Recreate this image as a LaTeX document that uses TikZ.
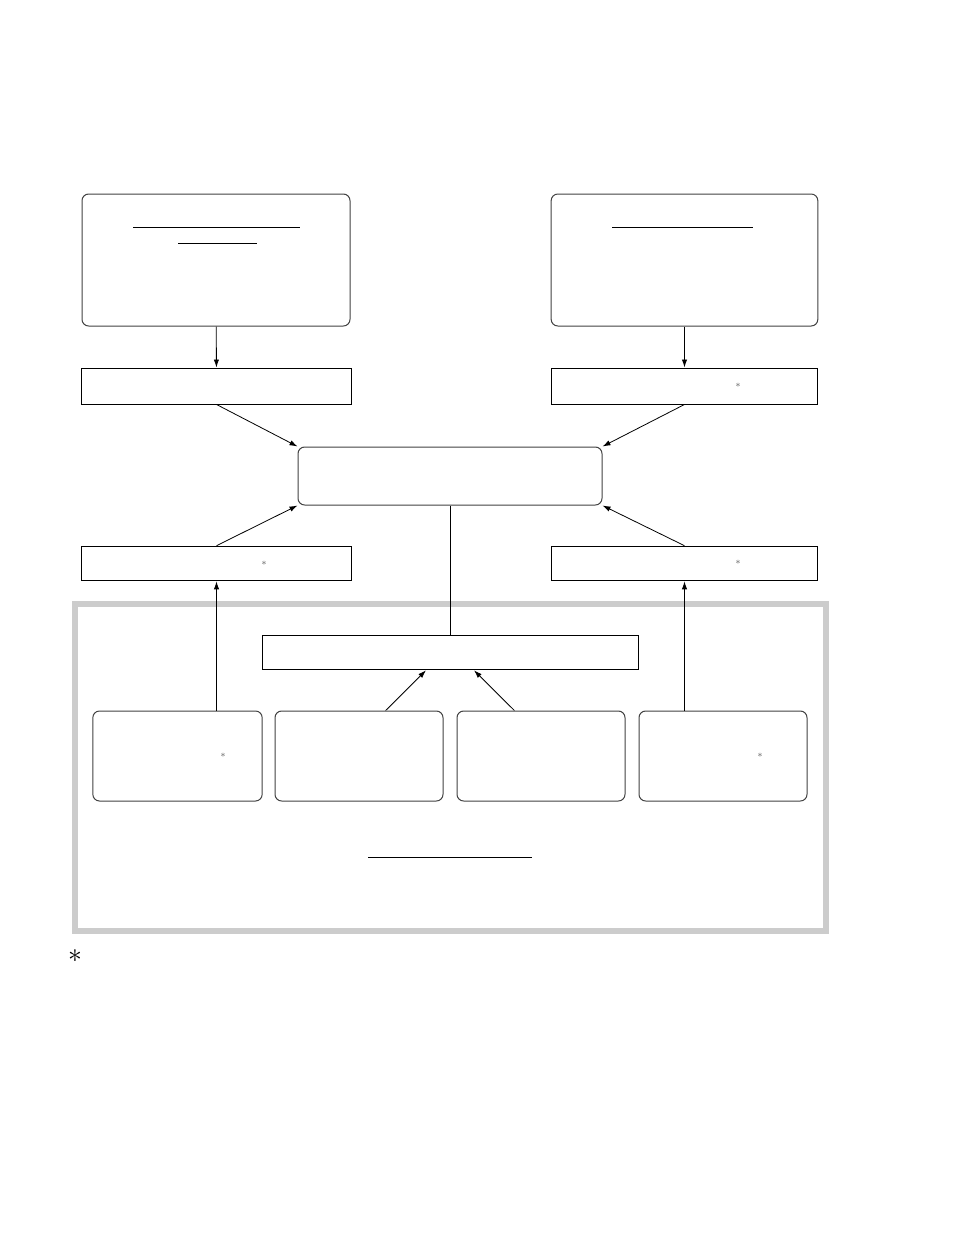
\documentclass[tikz,border=0pt]{standalone}
\usetikzlibrary{arrows.meta}

\begin{document}
\begin{tikzpicture}[x=0.75pt,y=-0.75pt,
    every node/.style={inner sep=0pt},
    roundbox/.style={draw=black!75,line width=0.75pt,rounded corners=5pt},
    plainbox/.style={draw,line width=0.7pt},
    link/.style={line width=0.6pt,-{Latex[length=6pt,width=4pt]}},
    starmark/.style={text=black!65,font=\scriptsize},
    rule/.style={line width=0.7pt}]
\useasboundingbox (0,0) rectangle (954,1243);
    % upper boxes
    \node[roundbox,minimum width=201pt,minimum height=99pt] (topL) at (216,260) {};
    \node[roundbox,minimum width=200pt,minimum height=99pt] (topR) at (684.5,260) {};
    \node[plainbox,minimum width=202pt,minimum height=27pt] (midL) at (216.5,386) {};
    \node[plainbox,minimum width=200pt,minimum height=27pt] (midR) at (684.5,386) {};
    \node[roundbox,minimum width=228pt,minimum height=43.5pt] (centre) at (450,476) {};
    \node[plainbox,minimum width=202pt,minimum height=26pt] (lowL) at (216.5,563.5) {};
    \node[plainbox,minimum width=200pt,minimum height=26pt] (lowR) at (684.5,563.5) {};
    % grey frame
    \draw[black!20,line width=4.5pt] (75,604) rectangle (826,931);
    \node[plainbox,minimum width=282pt,minimum height=26pt] (inner) at (450,652.5) {};
    \node[roundbox,minimum width=127pt,minimum height=67.5pt] (boxA) at (177.5,756) {};
    \node[roundbox,minimum width=126pt,minimum height=67.5pt] (boxB) at (359,756) {};
    \node[roundbox,minimum width=126pt,minimum height=67.5pt] (boxC) at (541,756) {};
    \node[roundbox,minimum width=126pt,minimum height=67.5pt] (boxD) at (723,756) {};
    % underlines
    \draw[rule] (133,227) -- (300,227);
    \draw[rule] (178,243) -- (257,243);
    \draw[rule] (612,227) -- (753,227);
    \draw[rule] (368,857) -- (532,857);
    % asterisks
    \node[starmark] (astR1) at (738,385) {$\ast$};
    \node[starmark] (astL2) at (264,563) {$\ast$};
    \node[starmark] (astR2) at (738,562) {$\ast$};
    \node[starmark] (astA) at (223,755) {$\ast$};
    \node[starmark] (astD) at (760,755) {$\ast$};
    \node[font=\huge] (note) at (75,956) {$\ast$};
    % connectors
    \draw[link] (topL) -- (midL);
    \draw[link] (topR) -- (midR);
    \draw[link] (midL.south) -- (centre.north west);
    \draw[link] (midR.south) -- (centre.north east);
    \draw[link] (lowL.north) -- (centre.south west);
    \draw[link] (lowR.north) -- (centre.south east);
    \draw[line width=0.6pt] (centre.south) -- (inner.north);
    \draw[link] ([xshift=20pt]boxB.north) -- ([xshift=-18pt]inner.south);
    \draw[link] ([xshift=-20pt]boxC.north) -- ([xshift=18pt]inner.south);
    \draw[link] (lowL.south |- boxA.north) -- (lowL.south);
    \draw[link] (lowR.south |- boxD.north) -- (lowR.south);
\end{tikzpicture}
\end{document}
